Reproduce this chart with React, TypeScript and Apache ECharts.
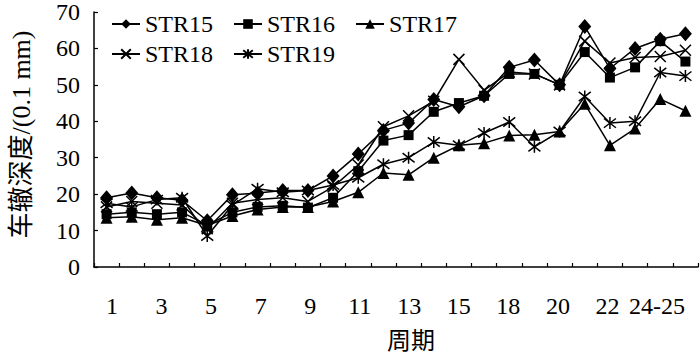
import React, { useEffect, useRef } from "react";
import * as echarts from "echarts";

const categories = ["1","2","3","4","5","6","7","8","9","10","11","12","13","14","15","16-17","18","19","20","21","22","23","24-25","26"];
const tickLabels = ["1","3","5","7","9","11","13","15","18","20","22","24-25"];

const str15 = [19, 20.3, 19, 18.3, 12.7, 19.8, 20.3, 21, 21, 25, 31, 37.5, 39.5, 46, 44, 47, 54.8, 56.8, 50, 66, 54.5, 60, 62.5, 64];
const str16 = [14.5, 15, 14.5, 15, 11.5, 15, 16.5, 16.8, 16.3, 19, 26.3, 34.7, 36.2, 42.6, 45, 47, 53, 53, 50, 59, 52, 54.8, 62, 56.4];
const str17 = [13.5, 13.8, 13, 13.5, 11.4, 14, 15.8, 16.5, 16.5, 18, 20.5, 25.8, 25.3, 30, 33.4, 34, 36.1, 36.3, 37.2, 44.8, 33.4, 38, 46.1, 42.9];
const str18 = [16.5, 18, 17.5, 17, 10.5, 17.5, 18.5, 19, 18, 22, 28, 38.5, 41.5, 45.5, 57, 48.5, 53.5, 53, 50, 62, 56, 57.5, 57.8, 59.5];
const str19 = [17.5, 16.5, 18.5, 19, 8.5, 17, 21.5, 20.5, 21, 22.5, 24.5, 28.2, 30, 34.3, 33.4, 36.8, 39.8, 33, 37.2, 46.8, 39.5, 40, 53.4, 52.4];

const seriesNames = ["STR15", "STR16", "STR17", "STR18", "STR19"];

const FONT = "Liberation Serif";
const FONT_CJK = "Liberation Serif, Noto Sans CJK SC";
const CROSS = "path://M0,0L10,10M10,0L0,10";
const STAR = "path://M0,0L10,10M10,0L0,10M5,-1.5L5,11.5";

const labelRich = { t: { fontFamily: FONT, fontSize: 24, color: "#000" } };
const fmt = (v: any) => "{t|" + v + "}";

export default function App() {
  const ref = useRef<HTMLDivElement>(null);
  useEffect(() => {
    if (!ref.current) return;
    const chart = echarts.init(ref.current, null, { renderer: "svg" });
    const mk = (name: string, data: number[], symbol: string, size: any, stroke: boolean) => ({
      name,
      type: "line",
      xAxisIndex: 0,
      yAxisIndex: 0,
      data,
      symbol,
      symbolSize: size,
      showAllSymbol: true,
      lineStyle: { color: "#000", width: 1.5 },
      itemStyle: stroke
        ? { color: "#000", borderColor: "#000", borderWidth: 1.5, opacity: 1 }
        : { color: "#000", borderWidth: 0, opacity: 1 },
      emphasis: { disabled: true },
    });
    const legendCommon = {
      orient: "horizontal",
      itemWidth: 28,
      itemHeight: 12,
      itemGap: 20,
      textStyle: { fontFamily: FONT, fontSize: 24, color: "#000" },
      inactiveColor: "#000",
      selectedMode: false,
    };
    chart.setOption({
      animation: false,
      backgroundColor: "#fff",
      textStyle: { fontFamily: FONT },
      legend: [
        { ...legendCommon, left: 106, top: 7, data: [seriesNames[0], seriesNames[1], seriesNames[2]] },
        { ...legendCommon, left: 106, top: 37, data: [seriesNames[3], seriesNames[4]] },
      ],
      grid: [
        { left: 87, right: 2, top: 12, bottom: 88, containLabel: false },
        { left: 112, right: 43, top: 12, bottom: 88, containLabel: false },
      ],
      xAxis: [
        {
          gridIndex: 0,
          type: "category",
          data: categories,
          boundaryGap: true,
          axisLine: { show: true, lineStyle: { color: "#000", width: 1.5 } },
          axisTick: { show: true, inside: true, length: 4, interval: 0, lineStyle: { color: "#000", width: 1.2 } },
          axisLabel: { show: false },
          splitLine: { show: false },
          name: "周期",
          nameLocation: "middle",
          nameGap: 62,
          nameTextStyle: { fontFamily: FONT_CJK, fontSize: 24, color: "#000", padding: [0, 0, 0, 30] },
        },
        {
          gridIndex: 1,
          type: "category",
          data: tickLabels,
          boundaryGap: false,
          axisLine: { show: false },
          axisTick: { show: false },
          axisLabel: { show: true, interval: 0, margin: 24, fontFamily: FONT, fontSize: 24, color: "#000", formatter: fmt, rich: labelRich },
          splitLine: { show: false },
        },
      ],
      yAxis: [
        {
          gridIndex: 0,
          type: "value",
          min: 0,
          max: 70,
          interval: 10,
          axisLine: { show: true, lineStyle: { color: "#000", width: 1.5 } },
          axisTick: { show: true, inside: true, length: 4, lineStyle: { color: "#000", width: 1.2 } },
          axisLabel: { show: true, margin: 14, fontFamily: FONT, fontSize: 24, color: "#000", formatter: fmt, rich: labelRich },
          splitLine: { show: false },
          name: "车辙深度/(0.1 mm)",
          nameLocation: "middle",
          nameRotate: 90,
          nameGap: 60,
          nameTextStyle: { fontFamily: FONT_CJK, fontSize: 26, color: "#000", padding: [0, 0, 0, 10] },
        },
        { gridIndex: 1, type: "value", show: false, min: 0, max: 70 },
      ],
      series: [
        mk("STR15", str15, "diamond", [13, 15], false),
        mk("STR16", str16, "rect", 10, false),
        mk("STR17", str17, "triangle", 12, false),
        mk("STR18", str18, CROSS, 11, true),
        mk("STR19", str19, STAR, 12, true),
      ],
    });
    return () => chart.dispose();
  }, []);
  return <div ref={ref} style={{ position: "fixed", left: 0, top: 0, width: 700, height: 358 }} />;
}
